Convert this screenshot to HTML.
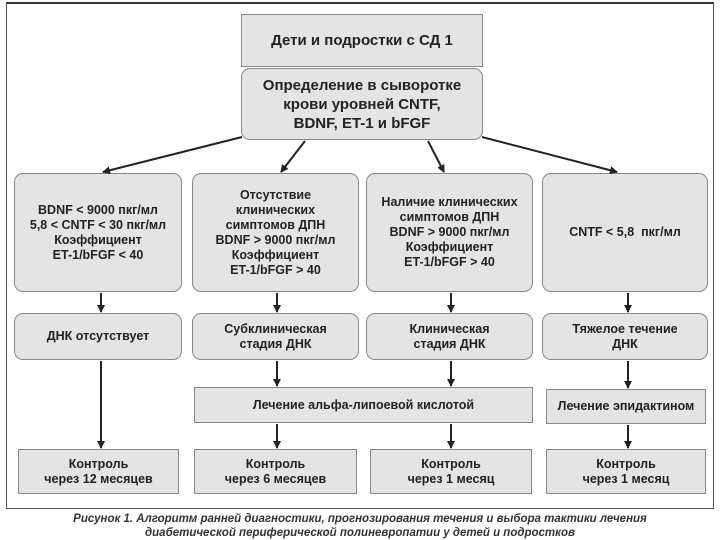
<!DOCTYPE html>
<html><head><meta charset="utf-8"><style>
body{margin:0;width:720px;height:540px;background:#fff;position:relative;overflow:hidden;font-family:"Liberation Sans","DejaVu Sans",sans-serif;}
.frame{position:absolute;left:6px;top:2px;width:706px;height:504px;border:1.5px solid #555;border-top:2px solid #333;}
.b{position:absolute;background:#e4e4e4;border:1.5px solid #888;display:flex;align-items:center;justify-content:center;text-align:center;font-weight:bold;font-size:12.5px;line-height:15px;color:#222;box-sizing:border-box;}
.r{border-radius:9px;}
.cap{position:absolute;left:0;width:720px;text-align:center;font-style:italic;font-weight:bold;font-size:11.5px;color:#333;line-height:14px;top:512px;}
svg{position:absolute;left:0;top:0;}
</style></head><body>
<div class="frame"></div>
<div class="b" style="left:241px;top:14px;width:242px;height:53px;font-size:15px;">Дети и подростки с СД 1</div>
<div class="b r" style="left:241px;top:68px;width:242px;height:72px;font-size:15px;line-height:19px;">Определение в сыворотке<br>крови уровней CNTF,<br>BDNF, ET-1 и bFGF</div>

<div class="b r" style="left:14px;top:173px;width:168px;height:119px;">BDNF &lt; 9000 пкг/мл<br>5,8 &lt; CNTF &lt; 30 пкг/мл<br>Коэффициент<br>ET-1/bFGF &lt; 40</div>
<div class="b r" style="left:192px;top:173px;width:167px;height:119px;">Отсутствие<br>клинических<br>симптомов ДПН<br>BDNF &gt; 9000 пкг/мл<br>Коэффициент<br>ET-1/bFGF &gt; 40</div>
<div class="b r" style="left:366px;top:173px;width:167px;height:119px;">Наличие клинических<br>симптомов ДПН<br>BDNF &gt; 9000 пкг/мл<br>Коэффициент<br>ET-1/bFGF &gt; 40</div>
<div class="b r" style="left:542px;top:173px;width:166px;height:119px;">CNTF &lt; 5,8&nbsp; пкг/мл</div>

<div class="b r" style="left:14px;top:313px;width:168px;height:47px;">ДНК отсутствует</div>
<div class="b r" style="left:192px;top:313px;width:167px;height:47px;">Субклиническая<br>стадия ДНК</div>
<div class="b r" style="left:366px;top:313px;width:167px;height:47px;">Клиническая<br>стадия ДНК</div>
<div class="b r" style="left:542px;top:313px;width:166px;height:47px;">Тяжелое течение<br>ДНК</div>

<div class="b" style="left:194px;top:387px;width:339px;height:36px;">Лечение альфа-липоевой кислотой</div>
<div class="b" style="left:546px;top:389px;width:160px;height:35px;">Лечение эпидактином</div>

<div class="b" style="left:18px;top:449px;width:161px;height:45px;">Контроль<br>через 12 месяцев</div>
<div class="b" style="left:194px;top:449px;width:163px;height:45px;">Контроль<br>через 6 месяцев</div>
<div class="b" style="left:370px;top:449px;width:162px;height:45px;">Контроль<br>через 1 месяц</div>
<div class="b" style="left:546px;top:449px;width:160px;height:45px;">Контроль<br>через 1 месяц</div>

<svg width="720" height="540"><defs><marker id="a" markerWidth="8" markerHeight="8" refX="7" refY="4" orient="auto" markerUnits="userSpaceOnUse"><path d="M0,0L8,4L0,8z" fill="#222"/></marker></defs>
<g stroke="#222" stroke-width="2" marker-end="url(#a)">
<line x1="242" y1="137" x2="103" y2="172"/>
<line x1="305" y1="141" x2="281" y2="172"/>
<line x1="428" y1="141" x2="444" y2="172"/>
<line x1="482" y1="137" x2="617" y2="172"/>
<line x1="101" y1="293" x2="101" y2="312"/>
<line x1="277" y1="293" x2="277" y2="312"/>
<line x1="451" y1="293" x2="451" y2="312"/>
<line x1="628" y1="293" x2="628" y2="312"/>
<line x1="101" y1="361" x2="101" y2="448"/>
<line x1="277" y1="361" x2="277" y2="386"/>
<line x1="451" y1="361" x2="451" y2="386"/>
<line x1="628" y1="361" x2="628" y2="388"/>
<line x1="277" y1="424" x2="277" y2="448"/>
<line x1="451" y1="424" x2="451" y2="448"/>
<line x1="628" y1="425" x2="628" y2="448"/>
</g></svg>
<div class="cap">Рисунок 1. Алгоритм ранней диагностики, прогнозирования течения и выбора тактики лечения<br>диабетической периферической полиневропатии у детей и подростков</div>
</body></html>
